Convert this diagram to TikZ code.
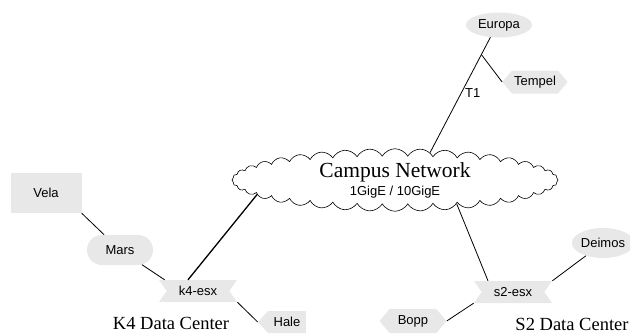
\documentclass[tikz,border=0pt]{standalone}
\usepackage{fontspec}
\setmainfont{Liberation Serif}
\newfontfamily\labelfont{Liberation Sans}
\usetikzlibrary{shapes.symbols,shapes.geometric,shapes.misc,calc}
\definecolor{hostfill}{RGB}{232,232,232}
\tikzset{
  host/.style={fill=hostfill, draw=none, inner sep=2pt,
    font=\labelfont\fontsize{13}{15}\selectfont},
  esxbox/.style={host, signal, signal from=west and east, signal to=nowhere,
    signal pointer angle=110, minimum width=78pt, minimum height=22pt},
  leftpoint/.style={host, signal, signal to=west, signal pointer angle=95,
    minimum height=22pt},
  hexbox/.style={host, signal, signal to=west and east, signal pointer angle=100,
    minimum height=24pt},
  oval/.style={host, ellipse, inner sep=0pt},
  link/.style={line width=0.8pt},
  uplink/.style={line width=1.3pt},
  sitetitle/.style={font=\fontsize{18.5}{20}\selectfont, inner sep=0pt},
}
\begin{document}
\begin{tikzpicture}[x=1pt, y=-1pt]
  \useasboundingbox (0,0) rectangle (630,335);

  % campus backbone
  \node[cloud, draw, fill=white, line width=0.6pt, cloud puffs=40, cloud puff arc=120,
        aspect=5.4, minimum width=326pt, minimum height=60pt, inner sep=0pt,
        align=center] (cloud) at (395,180)
    {\fontsize{21.5}{22}\selectfont Campus Network\\[3pt]
     {\labelfont\fontsize{13}{13}\selectfont 1GigE / 10GigE}};

  % remote hosts
  \node[oval, minimum width=66pt, minimum height=25pt] (europa) at (499,25) {Europa};
  \node[hexbox, minimum width=60pt, minimum height=23pt] (tempel) at (535,82) {Tempel};

  % K4 data center
  \node[host, rectangle, minimum width=71pt, minimum height=40pt] (vela) at (46,193) {Vela};
  \node[host, rounded rectangle, minimum width=70pt, minimum height=30pt] (mars) at (120,250) {Mars};
  \node[esxbox] (k4) at (198,291) {k4-esx};
  \node[leftpoint, minimum width=48pt] (hale) at (287,322) {Hale};
  \node[sitetitle] (k4title) at (171,323) {K4 Data Center};

  % S2 data center
  \node[esxbox] (s2) at (513,292) {s2-esx};
  \node[oval, minimum width=58pt, minimum height=30pt] (deimos) at (603,243) {Deimos};
  \node[hexbox, minimum width=67pt] (bopp) at (413,321) {Bopp};
  \node[sitetitle] (s2title) at (572,324) {S2 Data Center};

  % links
  \coordinate (t1tap) at ($(europa.235)!0.15!(cloud.38)$);
  \draw[link] (europa.235) -- (cloud.38);
  \draw[link] (t1tap) -- (tempel.west);
  \node[font=\labelfont\fontsize{13}{15}\selectfont, anchor=west, inner sep=0pt]
    (t1) at (465,93) {T1};

  \draw[uplink] ([xshift=-10pt]k4.north) -- (cloud.186);
  \draw[link] (vela.south east) -- (mars);
  \draw[link] (mars) -- ([xshift=6pt]k4.north west);
  \draw[link] (k4.south east) -- (hale.west);

  \draw[link] (cloud.339) -- ([xshift=-25pt]s2.north);
  \draw[link] (s2.north east) -- (deimos);
  \draw[link] (s2.south west) -- (bopp.east);
\end{tikzpicture}
\end{document}
